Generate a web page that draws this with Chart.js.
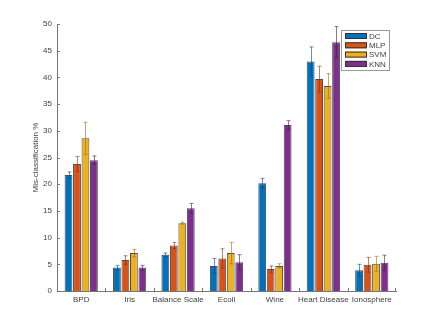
<!DOCTYPE html>
<html>
<head>
    <title>Mis-classification by dataset</title>
    <script src="https://cdn.jsdelivr.net/npm/chart.js"></script>
    <style>
        body { margin: 0; background: #fff; }
    </style>
</head>
<body>
    <canvas id="errChart" width="436" height="327"></canvas>
    <script>
        const categories = ['BPD', 'Iris', 'Balance Scale', 'Ecoli', 'Wine', 'Heart Disease', 'Ionosphere'];
        const yTicks = [0, 5, 10, 15, 20, 25, 30, 35, 40, 45, 50];

        const dcVals  = [21.7, 4.4, 6.8, 4.7, 20.2, 43.0, 3.9];
        const dcErr   = [0.6, 0.4, 0.3, 1.4, 0.9, 2.7, 1.1];
        const mlpVals = [23.8, 5.8, 8.5, 6.1, 4.1, 39.7, 4.9];
        const mlpErr  = [1.4, 0.8, 0.6, 1.8, 0.6, 2.4, 1.4];
        const svmVals = [28.6, 7.1, 12.7, 7.1, 4.7, 38.4, 5.1];
        const svmErr  = [3.0, 0.7, 0.2, 2.0, 0.4, 2.3, 1.4];
        const knnVals = [24.5, 4.4, 15.5, 5.4, 31.1, 46.6, 5.3];
        const knnErr  = [0.8, 0.4, 0.9, 1.4, 0.8, 2.9, 1.4];

        const FONT = 'Liberation Sans, Arial, Helvetica, sans-serif';
        const TEXT = '#404040';

        // error bars drawn over the bars, using the y scale
        const errorBars = {
            id: 'errorBars',
            afterDatasetsDraw(chart) {
                const ctx = chart.ctx;
                const y = chart.scales.y;
                chart.data.datasets.forEach((ds, i) => {
                    const meta = chart.getDatasetMeta(i);
                    ctx.save();
                    ctx.strokeStyle = ds.errColor;
                    ctx.lineWidth = 1;
                    meta.data.forEach((bar, j) => {
                        const top = y.getPixelForValue(ds.data[j] + ds.err[j]);
                        const bot = y.getPixelForValue(ds.data[j] - ds.err[j]);
                        const x = Math.round(bar.x) + 0.5;
                        ctx.beginPath();
                        ctx.moveTo(x, top); ctx.lineTo(x, bot);
                        ctx.moveTo(x - 2, top); ctx.lineTo(x + 2, top);
                        ctx.moveTo(x - 2, bot); ctx.lineTo(x + 2, bot);
                        ctx.stroke();
                    });
                    ctx.restore();
                });
            }
        };

        // matlab style inward ticks + legend box in the corner
        const axesExtras = {
            id: 'axesExtras',
            afterDraw(chart) {
                const ctx = chart.ctx;
                const area = chart.chartArea;
                const x = chart.scales.x, y = chart.scales.y;
                ctx.save();
                ctx.strokeStyle = '#777';
                ctx.lineWidth = 1;
                ctx.beginPath();
                yTicks.forEach(v => {
                    const py = Math.round(y.getPixelForValue(v)) + 0.5;
                    ctx.moveTo(area.left, py); ctx.lineTo(area.left + 3, py);
                });
                // x ticks sit between the groups
                for (let i = 1; i < categories.length; i++) {
                    const px = Math.round((x.getPixelForTick(i - 1) + x.getPixelForTick(i)) / 2) + 0.5;
                    ctx.moveTo(px, area.bottom); ctx.lineTo(px, area.bottom - 3);
                }
                ctx.moveTo(area.right - 0.5, area.bottom); ctx.lineTo(area.right - 0.5, area.bottom - 3);
                ctx.stroke();

                // legend
                const lx = 341, ly = 30, lw = 48, lh = 40;
                ctx.fillStyle = '#fff';
                ctx.fillRect(lx, ly, lw, lh);
                ctx.strokeStyle = '#999';
                ctx.strokeRect(lx + 0.5, ly + 0.5, lw, lh);
                ctx.font = '8px ' + FONT;
                ctx.textBaseline = 'middle';
                chart.data.datasets.forEach((ds, i) => {
                    const cy = ly + 6 + i * 9.3;
                    ctx.fillStyle = ds.backgroundColor;
                    ctx.fillRect(lx + 4, cy - 3, 22, 6);
                    ctx.strokeStyle = '#333';
                    ctx.strokeRect(lx + 4.5, cy - 2.5, 21, 5);
                    ctx.fillStyle = TEXT;
                    ctx.fillText(ds.label, lx + 28, cy + 0.5);
                });
                ctx.restore();
            }
        };

        function makeSet(label, data, err, color, errColor) {
            return {
                label: label,
                data: data,
                err: err,
                backgroundColor: color,
                borderColor: 'rgba(45, 45, 45, 0.85)',
                borderWidth: 1,
                errColor: errColor,
                categoryPercentage: 0.7,
                barPercentage: 0.92
            };
        }

        const ctx = document.getElementById('errChart').getContext('2d');
        new Chart(ctx, {
            type: 'bar',
            data: {
                labels: categories,
                datasets: [
                    makeSet('DC', dcVals, dcErr, '#0072BD', 'rgba(0, 70, 130, 0.6)'),
                    makeSet('MLP', mlpVals, mlpErr, '#D95319', 'rgba(140, 45, 10, 0.6)'),
                    makeSet('SVM', svmVals, svmErr, '#EDB120', 'rgba(160, 110, 10, 0.6)'),
                    makeSet('KNN', knnVals, knnErr, '#7E2F8E', 'rgba(75, 20, 90, 0.6)')
                ]
            },
            options: {
                responsive: false,
                animation: false,
                devicePixelRatio: 1,
                layout: { padding: { left: 0, right: 40, top: 24, bottom: 0 } },
                plugins: {
                    legend: { display: false },
                    tooltip: { enabled: false }
                },
                scales: {
                    x: {
                        grid: { display: false, drawTicks: false },
                        border: { display: true, color: '#777' },
                        ticks: { font: { family: FONT, size: 8 }, color: TEXT, padding: 4, maxRotation: 0, autoSkip: false },
                        afterFit: s => { s.height = 36; }
                    },
                    y: {
                        min: 0,
                        max: 50,
                        grid: { display: false, drawTicks: false },
                        border: { display: true, color: '#777' },
                        ticks: { stepSize: 5, font: { family: FONT, size: 8 }, color: TEXT, padding: 5 },
                        title: {
                            display: true,
                            text: 'Mis-classification %',
                            font: { family: FONT, size: 8 },
                            color: TEXT,
                            padding: { top: 31, bottom: 0 }
                        },
                        afterFit: s => { s.width = 57; }
                    }
                }
            },
            plugins: [errorBars, axesExtras]
        });
    </script>
</body>
</html>
